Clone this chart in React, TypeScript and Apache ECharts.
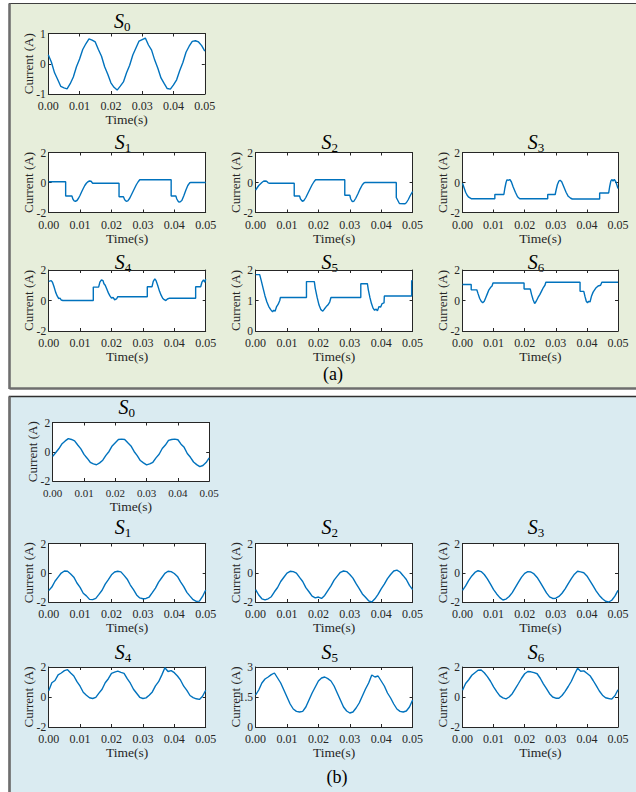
import React, { useEffect, useRef } from "react";
import * as echarts from "echarts";

const FONT = "Liberation Serif";
const BLUE = "#0072BD";
const INK = "#262626";

// time samples (ms) for the sinusoidal traces
const timeMs = [0,1,2,3,4,5,6,7,8,9,10,11,12,13,14,15,16,17,18,19,20,21,22,23,24,25,26,27,28,29,30,31,32,33,34,35,36,37,38,39,40,41,42,43,44,45,46,47,48,49,50];

// ---- panel (a) ----
const aS0 = [0.30,0.05,-0.30,-0.52,-0.75,-0.80,-0.83,-0.66,-0.44,-0.10,0.16,0.47,0.66,0.82,0.78,0.72,0.47,0.25,-0.10,-0.35,-0.63,-0.78,-0.87,-0.74,-0.60,-0.30,-0.05,0.29,0.52,0.75,0.80,0.85,0.62,0.45,0.12,-0.15,-0.47,-0.65,-0.82,-0.84,-0.70,-0.53,-0.22,0.04,0.38,0.58,0.74,0.76,0.72,0.60,0.42];

const aS1: [number, number][] = [[0,0.05],[0.0054,0.05],[0.0054,-0.9],[0.0074,-0.9],[0.0077,-1.1],[0.0081,-1.22],[0.0085,-1.25],[0.009,-1.2],[0.0095,-1.05],[0.01,-0.85],[0.0105,-0.62],[0.011,-0.4],[0.0115,-0.2],[0.012,-0.05],[0.0125,0.05],[0.013,0.1],[0.0135,0.08],[0.014,-0.05],[0.0224,-0.05],[0.0224,-0.95],[0.0238,-0.95],[0.0242,-1.15],[0.0247,-1.25],[0.0252,-1.22],[0.0258,-1.05],[0.0265,-0.75],[0.0272,-0.45],[0.0279,-0.15],[0.0285,0.05],[0.029,0.18],[0.039,0.18],[0.039,-0.9],[0.0405,-0.9],[0.0408,-1.1],[0.0413,-1.28],[0.0418,-1.3],[0.0424,-1.2],[0.043,-0.9],[0.0437,-0.5],[0.0443,-0.2],[0.0449,-0.02],[0.0453,0.0],[0.05,0.0]];

const aS2: [number, number][] = [[0,-0.5],[0.0005,-0.35],[0.001,-0.2],[0.0015,-0.1],[0.002,0.0],[0.0025,0.08],[0.003,0.1],[0.0035,0.08],[0.004,-0.02],[0.0045,-0.05],[0.0123,-0.05],[0.0123,-0.9],[0.014,-0.9],[0.0143,-1.1],[0.0149,-1.25],[0.0154,-1.2],[0.016,-1.0],[0.0167,-0.7],[0.0174,-0.4],[0.018,-0.15],[0.0186,0.05],[0.0191,0.18],[0.0284,0.18],[0.0284,-0.85],[0.03,-0.85],[0.0303,-1.1],[0.0308,-1.28],[0.0313,-1.25],[0.0319,-1.05],[0.0326,-0.75],[0.0333,-0.42],[0.034,-0.15],[0.0345,-0.03],[0.0349,0.0],[0.0448,0.0],[0.0448,-1.0],[0.0453,-1.2],[0.0458,-1.4],[0.0475,-1.42],[0.048,-1.35],[0.0486,-1.15],[0.0493,-0.85],[0.05,-0.6]];

const aS3: [number, number][] = [[0,-0.05],[0.0005,-0.35],[0.001,-0.65],[0.0015,-0.85],[0.002,-0.98],[0.0028,-1.08],[0.0104,-1.08],[0.0104,-0.8],[0.0133,-0.8],[0.0136,-0.4],[0.014,0.0],[0.0143,0.18],[0.0148,0.15],[0.0152,0.2],[0.0157,0.05],[0.0163,-0.3],[0.017,-0.65],[0.0177,-0.95],[0.0184,-1.08],[0.0274,-1.08],[0.0274,-0.8],[0.0298,-0.8],[0.0301,-0.5],[0.0305,-0.15],[0.031,0.1],[0.0314,0.15],[0.0319,0.05],[0.0326,-0.3],[0.0333,-0.65],[0.034,-0.92],[0.0348,-1.05],[0.0353,-1.1],[0.0441,-1.1],[0.0441,-0.7],[0.047,-0.7],[0.0473,-0.3],[0.0477,0.1],[0.048,0.2],[0.0484,0.1],[0.0488,0.2],[0.0493,0.05],[0.0497,-0.2],[0.05,-0.4]];

const aS4: [number, number][] = [[0,1.25],[0.0008,1.3],[0.0012,1.2],[0.0017,0.9],[0.0022,0.55],[0.0027,0.3],[0.0032,0.12],[0.0036,0.15],[0.004,0.03],[0.0045,0.0],[0.0142,0.0],[0.0142,0.88],[0.0159,0.88],[0.0163,1.2],[0.0168,1.35],[0.0173,1.3],[0.0176,1.1],[0.018,1.0],[0.0185,0.75],[0.019,0.5],[0.0195,0.3],[0.02,0.15],[0.0205,0.2],[0.021,0.05],[0.0216,0.1],[0.022,0.25],[0.0314,0.25],[0.0314,0.9],[0.0329,0.9],[0.0333,1.25],[0.0338,1.42],[0.0342,1.3],[0.0347,1.0],[0.0353,0.6],[0.0358,0.35],[0.0363,0.15],[0.0368,0.05],[0.0373,0.0],[0.0378,0.1],[0.0385,0.15],[0.0468,0.15],[0.0468,0.9],[0.0484,0.9],[0.0488,1.2],[0.0493,1.35],[0.0497,1.2],[0.05,1.4]];

const aS5: [number, number][] = [[0,1.85],[0.0013,1.85],[0.0018,1.65],[0.0024,1.4],[0.003,1.15],[0.0036,0.95],[0.0042,0.8],[0.0048,0.7],[0.0054,0.63],[0.0058,0.68],[0.0062,0.65],[0.0067,0.8],[0.0072,0.88],[0.0077,1.0],[0.0079,1.1],[0.0162,1.1],[0.0162,1.62],[0.0187,1.62],[0.019,1.4],[0.0196,1.1],[0.0202,0.85],[0.0208,0.7],[0.0214,0.65],[0.0219,0.72],[0.0225,0.8],[0.023,0.85],[0.0236,0.95],[0.024,1.1],[0.0335,1.1],[0.0335,1.55],[0.0356,1.55],[0.0359,1.35],[0.0364,1.1],[0.0369,0.9],[0.0374,0.75],[0.0379,0.68],[0.0384,0.72],[0.0388,0.66],[0.0393,0.8],[0.0398,0.78],[0.0403,0.9],[0.0409,0.92],[0.041,1.15],[0.0497,1.15],[0.0497,1.65],[0.05,1.65]];

const aS6: [number, number][] = [[0,1.05],[0.0028,1.05],[0.0028,0.7],[0.0046,0.7],[0.005,0.45],[0.0055,0.15],[0.006,-0.05],[0.0065,-0.15],[0.007,-0.05],[0.0075,0.2],[0.008,0.45],[0.0085,0.7],[0.009,0.85],[0.0095,0.95],[0.0098,1.15],[0.0198,1.15],[0.0198,0.75],[0.0218,0.75],[0.0222,0.4],[0.0227,0.05],[0.0232,-0.2],[0.0237,-0.05],[0.0243,0.2],[0.0249,0.4],[0.0255,0.65],[0.026,0.85],[0.0265,1.0],[0.0268,1.2],[0.0378,1.2],[0.0378,0.6],[0.039,0.6],[0.0394,0.25],[0.0398,-0.05],[0.0402,-0.15],[0.0406,-0.05],[0.041,-0.1],[0.0415,0.3],[0.042,0.55],[0.0428,0.8],[0.0436,0.95],[0.0444,1.0],[0.0448,1.2],[0.05,1.2]];

// ---- panel (b) ----
const bS0 = [-0.32,-0.05,0.22,0.55,0.74,0.90,0.84,0.74,0.46,0.20,-0.18,-0.44,-0.72,-0.83,-0.89,-0.76,-0.58,-0.25,0.02,0.40,0.62,0.84,0.86,0.84,0.61,0.40,0.02,-0.26,-0.60,-0.76,-0.90,-0.83,-0.72,-0.42,-0.17,0.22,0.46,0.78,0.84,0.86,0.82,0.52,0.30,-0.12,-0.38,-0.70,-0.88,-1.02,-0.94,-0.74,-0.42];
const bS1 = [-1.22,-0.98,-0.58,-0.30,-0.02,0.12,0.10,-0.08,-0.30,-0.70,-1.00,-1.40,-1.58,-1.82,-1.84,-1.75,-1.48,-1.20,-0.78,-0.47,-0.14,0.05,0.10,0.06,-0.18,-0.44,-0.84,-1.16,-1.52,-1.72,-1.78,-1.76,-1.66,-1.36,-1.05,-0.64,-0.34,-0.04,0.10,0.08,-0.05,-0.25,-0.62,-0.95,-1.34,-1.60,-1.84,-1.96,-1.94,-1.62,-1.18];
const bS2 = [-1.15,-1.52,-1.78,-1.86,-1.78,-1.64,-1.30,-1.01,-0.60,-0.31,-0.02,0.10,0.08,-0.02,-0.32,-0.60,-1.02,-1.30,-1.60,-1.72,-1.66,-1.76,-1.55,-1.22,-0.90,-0.50,-0.23,0.03,0.12,0.08,-0.12,-0.37,-0.75,-1.08,-1.45,-1.68,-1.92,-2.0,-1.78,-1.48,-1.10,-0.78,-0.40,-0.12,0.12,0.18,0.05,-0.20,-0.46,-0.86,-1.15];
const bS3 = [-1.20,-0.90,-0.52,-0.22,0.02,0.14,0.08,-0.12,-0.42,-0.78,-1.15,-1.45,-1.70,-1.86,-1.80,-1.62,-1.36,-1.00,-0.64,-0.30,-0.04,0.08,0.05,-0.08,-0.32,-0.66,-1.02,-1.38,-1.65,-1.76,-1.74,-1.62,-1.40,-1.10,-0.74,-0.40,-0.10,0.10,0.06,0.00,-0.22,-0.55,-0.90,-1.25,-1.55,-1.78,-1.95,-2.0,-1.88,-1.60,-1.20];
const bS4 = [0.42,0.95,1.10,1.48,1.60,1.76,1.82,1.60,1.40,1.02,0.72,0.32,0.12,-0.05,-0.10,-0.02,0.26,0.52,0.95,1.22,1.58,1.66,1.72,1.64,1.58,1.22,0.92,0.52,0.25,-0.02,-0.10,-0.06,0.12,0.34,0.74,1.02,1.46,1.95,1.70,1.76,1.62,1.40,1.12,0.72,0.44,0.10,-0.04,-0.12,-0.16,0.05,0.45];
const bS5 = [1.60,1.85,2.20,2.40,2.50,2.62,2.70,2.45,2.20,1.85,1.50,1.15,0.90,0.78,0.75,0.78,1.00,1.35,1.70,2.00,2.30,2.45,2.50,2.42,2.30,2.05,1.70,1.35,1.00,0.80,0.70,0.75,0.95,1.20,1.55,1.90,2.20,2.60,2.50,2.55,2.30,2.05,1.70,1.45,1.15,0.90,0.78,0.75,0.80,1.00,1.35];
const bS6 = [0.45,0.90,1.15,1.45,1.62,1.78,1.80,1.62,1.36,1.05,0.68,0.36,0.08,-0.06,-0.12,0.00,0.22,0.56,0.90,1.25,1.55,1.70,1.68,1.62,1.55,1.25,0.88,0.56,0.22,0.00,-0.08,-0.08,0.10,0.38,0.70,1.05,1.50,1.92,1.72,1.74,1.58,1.42,1.10,0.76,0.40,0.12,-0.05,-0.10,-0.14,0.08,0.48];

const toPairs = (vals: number[]): [number, number][] => vals.map((v, i) => [timeMs[i] / 1000, v]);

interface PlotSpec {
  idx: string;
  left: number; top: number; width: number; height: number;
  yMin: number; yMax: number; yInterval: number;
  data: [number, number][];
  titleY: number;
  xLabelSize?: number;
}

const C1 = 48.7, C2 = 255.6, C3 = 462.5, W = 157;

const plots: PlotSpec[] = [
  { idx: "0", left: 48.3, top: 33.5, width: 156.5, height: 60.5, yMin: -1, yMax: 1, yInterval: 1, data: toPairs(aS0), titleY: 21 },
  { idx: "1", left: C1, top: 152.5, width: W, height: 60, yMin: -2, yMax: 2, yInterval: 2, data: aS1, titleY: 141.5 },
  { idx: "2", left: C2, top: 152.5, width: W, height: 60, yMin: -2, yMax: 2, yInterval: 2, data: aS2, titleY: 141.5 },
  { idx: "3", left: C3, top: 152.5, width: 155.5, height: 60, yMin: -2, yMax: 2, yInterval: 2, data: aS3, titleY: 141.5 },
  { idx: "4", left: C1, top: 270, width: W, height: 61, yMin: -2, yMax: 2, yInterval: 2, data: aS4, titleY: 261.5 },
  { idx: "5", left: C2, top: 270, width: W, height: 61, yMin: 0, yMax: 2, yInterval: 1, data: aS5, titleY: 261.5 },
  { idx: "6", left: C3, top: 270, width: 155.5, height: 61, yMin: -2, yMax: 2, yInterval: 2, data: aS6, titleY: 261.5 },
  { idx: "0", left: 52.7, top: 422.5, width: 156.5, height: 58.5, yMin: -2, yMax: 2, yInterval: 2, data: toPairs(bS0), titleY: 406.5, xLabelSize: 11 },
  { idx: "1", left: C1, top: 543.5, width: W, height: 58.5, yMin: -2, yMax: 2, yInterval: 2, data: toPairs(bS1), titleY: 527 },
  { idx: "2", left: C2, top: 543.5, width: W, height: 58.5, yMin: -2, yMax: 2, yInterval: 2, data: toPairs(bS2), titleY: 527 },
  { idx: "3", left: C3, top: 543.5, width: 155.5, height: 58.5, yMin: -2, yMax: 2, yInterval: 2, data: toPairs(bS3), titleY: 527 },
  { idx: "4", left: C1, top: 667, width: W, height: 60, yMin: -2, yMax: 2, yInterval: 2, data: toPairs(bS4), titleY: 651.5 },
  { idx: "5", left: C2, top: 667, width: W, height: 60, yMin: 0, yMax: 3, yInterval: 1.5, data: toPairs(bS5), titleY: 651.5 },
  { idx: "6", left: C3, top: 667, width: 155.5, height: 60, yMin: -2, yMax: 2, yInterval: 2, data: toPairs(bS6), titleY: 651.5 },
];

function buildOption() {
  const grid: any[] = [];
  const xAxis: any[] = [];
  const yAxis: any[] = [];
  const series: any[] = [];
  const graphic: any[] = [];

  // panel backgrounds
  graphic.push({ type: "rect", z: -20, silent: true, shape: { x: 9.5, y: 3.5, width: 640, height: 385 }, style: { fill: "#e7eedb", stroke: "#3f3f3f", lineWidth: 1.2 } });
  graphic.push({ type: "line", z: -19, silent: true, shape: { x1: 9.5, y1: 3.5, x2: 9.5, y2: 389 }, style: { stroke: "#6e6e6e", lineWidth: 2.5 } });
  graphic.push({ type: "line", z: -19, silent: true, shape: { x1: 9.5, y1: 388.5, x2: 640, y2: 388.5 }, style: { stroke: "#6e6e6e", lineWidth: 2.5 } });
  graphic.push({ type: "rect", z: -20, silent: true, shape: { x: 9.5, y: 396.5, width: 640, height: 420 }, style: { fill: "#daebf1", stroke: "#2f2f2f", lineWidth: 1.5 } });
  graphic.push({ type: "line", z: -19, silent: true, shape: { x1: 9.5, y1: 396.5, x2: 9.5, y2: 800 }, style: { stroke: "#6e6e6e", lineWidth: 2.5 } });

  plots.forEach((p, i) => {
    grid.push({ left: p.left, top: p.top, width: p.width, height: p.height, show: true, backgroundColor: "#ffffff", borderWidth: 0 });
    const axLine = { show: true, onZero: false, lineStyle: { color: INK, width: 1 } };
    const tick = { show: true, inside: true, length: 3, lineStyle: { color: INK, width: 1 } };
    xAxis.push({
      gridIndex: i, type: "value", position: "bottom", min: 0, max: 0.05, interval: 0.01,
      axisLine: axLine, axisTick: tick, splitLine: { show: false },
      axisLabel: { fontFamily: FONT, fontSize: p.xLabelSize ?? 12, color: INK, margin: 6, formatter: (v: number) => v.toFixed(2) },
      name: "Time(s)", nameLocation: "middle", nameGap: 18.5, nameMoveOverlap: false,
      nameTextStyle: { fontFamily: FONT, fontSize: 13.5, color: INK },
    });
    xAxis.push({
      gridIndex: i, type: "value", position: "top", min: 0, max: 0.05, interval: 0.01,
      axisLine: axLine, axisTick: tick, splitLine: { show: false }, axisLabel: { show: false },
    });
    yAxis.push({
      gridIndex: i, type: "value", position: "left", min: p.yMin, max: p.yMax, interval: p.yInterval,
      axisLine: axLine, axisTick: tick, splitLine: { show: false },
      axisLabel: { fontFamily: FONT, fontSize: 11.5, color: INK, margin: 2.5 },
      name: "Current (A)", nameLocation: "middle", nameGap: 13.5, nameMoveOverlap: false,
      nameTextStyle: { fontFamily: FONT, fontSize: 13, color: INK },
    });
    yAxis.push({
      gridIndex: i, type: "value", position: "right", min: p.yMin, max: p.yMax, interval: p.yInterval,
      axisLine: axLine, axisTick: tick, splitLine: { show: false }, axisLabel: { show: false },
    });
    series.push({
      type: "line", xAxisIndex: 2 * i, yAxisIndex: 2 * i, data: p.data,
      showSymbol: false, symbol: "none", silent: true,
      lineStyle: { color: BLUE, width: 1.4 },
    });
    const cx = p.left + p.width / 2;
    graphic.push({
      type: "text", silent: true, x: cx - 2.5, y: p.titleY,
      style: { text: "S", font: `italic 20px ${FONT}`, fill: "#000", align: "right", textAlign: "right", verticalAlign: "middle", textVerticalAlign: "middle" },
    });
    graphic.push({
      type: "text", silent: true, x: cx - 2.5, y: p.titleY + 5.5,
      style: { text: p.idx, font: `13px ${FONT}`, fill: "#000", align: "left", textAlign: "left", verticalAlign: "middle", textVerticalAlign: "middle" },
    });
  });

  graphic.push({ type: "text", silent: true, x: 333, y: 374, style: { text: "(a)", font: `18px ${FONT}`, fill: "#000", align: "center", textAlign: "center", verticalAlign: "middle", textVerticalAlign: "middle" } });
  graphic.push({ type: "text", silent: true, x: 337, y: 777, style: { text: "(b)", font: `18px ${FONT}`, fill: "#000", align: "center", textAlign: "center", verticalAlign: "middle", textVerticalAlign: "middle" } });

  return {
    animation: false,
    backgroundColor: "#ffffff",
    grid, xAxis, yAxis, series, graphic,
  };
}

export default function App() {
  const ref = useRef<HTMLDivElement>(null);
  useEffect(() => {
    if (!ref.current) return;
    const chart = echarts.init(ref.current, undefined, { renderer: "svg" });
    chart.setOption(buildOption() as any);
    return () => chart.dispose();
  }, []);
  return <div ref={ref} style={{ width: 636, height: 792, position: "absolute", left: 0, top: 0 }} />;
}
